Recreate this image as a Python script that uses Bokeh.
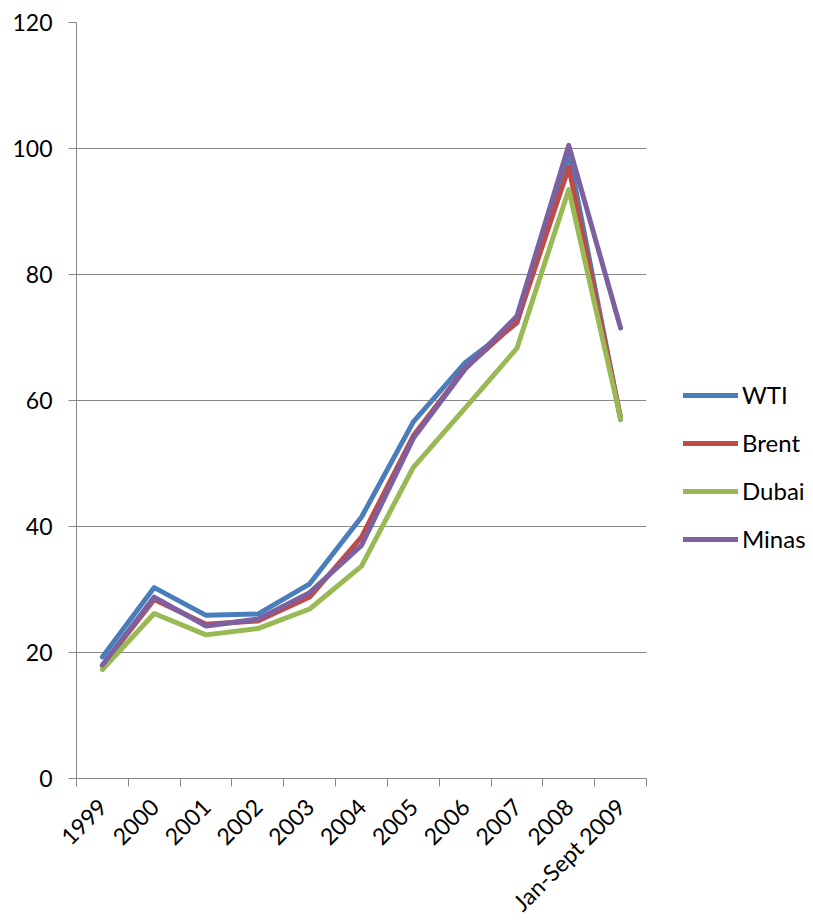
import numpy as np
from bokeh.plotting import figure
from bokeh.models import Range1d, FixedTicker, Legend, LegendItem
from bokeh.embed import file_html
from bokeh.resources import INLINE

categories = ["1999", "2000", "2001", "2002", "2003", "2004", "2005", "2006", "2007", "2008", "Jan-Sept 2009"]
wti   = [19.3, 30.3, 25.9, 26.1, 30.9, 41.5, 56.6, 66.0, 72.3, 99.2, 57.0]
brent = [17.9, 28.4, 24.5, 25.0, 28.8, 38.3, 54.4, 65.1, 72.5, 97.0, 57.3]
dubai = [17.3, 26.2, 22.8, 23.8, 26.9, 33.7, 49.4, 58.8, 68.3, 93.5, 57.1]
minas = [18.0, 28.8, 24.2, 25.3, 29.5, 37.0, 54.0, 65.0, 73.4, 100.5, 71.5]

series_names = ["WTI", "Brent", "Dubai", "Minas"]
series_values = [wti, brent, dubai, minas]
colors = ["#4A7EBB", "#BE4B48", "#98B954", "#7D60A0"]

FONT = "Lato"
GRAY = "#888888"

x = np.arange(len(categories)) + 0.5

p = figure(frame_width=570, frame_height=756, output_backend="svg", toolbar_location=None,
           x_range=Range1d(0, len(categories)), y_range=Range1d(0, 120))
p.min_border_left = 76
p.min_border_top = 22
p.min_border_right = 150
p.min_border_bottom = 0
p.outline_line_color = None
p.background_fill_color = "white"

items = []
for name, vals, c in zip(series_names, series_values, colors):
    r = p.line(x, vals, line_color=c, line_width=5, line_join="round", line_cap="round")
    items.append(LegendItem(label=name, renderers=[r]))

# x axis
p.xaxis.ticker = FixedTicker(ticks=list(x), minor_ticks=list(np.arange(len(categories) + 1)))
p.xaxis.major_label_overrides = {float(xi): c for xi, c in zip(x, categories)}
p.xaxis.major_label_orientation = np.pi / 4
p.xaxis.major_tick_out = 0
p.xaxis.major_tick_in = 0
p.xaxis.minor_tick_out = 8
p.xaxis.minor_tick_in = 0
p.xaxis.minor_tick_line_color = GRAY
p.xaxis.axis_line_color = GRAY
p.xaxis.major_label_standoff = 16
p.xaxis.major_label_text_font = FONT
p.xaxis.major_label_text_font_size = "23px"
p.xaxis.major_label_text_color = "black"

# y axis
p.yaxis.ticker = FixedTicker(ticks=[0, 20, 40, 60, 80, 100, 120])
p.yaxis.major_tick_out = 8
p.yaxis.major_tick_in = 0
p.yaxis.minor_tick_line_color = None
p.yaxis.axis_line_color = GRAY
p.yaxis.major_tick_line_color = GRAY
p.yaxis.major_label_standoff = 16
p.yaxis.major_label_text_font = FONT
p.yaxis.major_label_text_font_size = "23px"
p.yaxis.major_label_text_color = "black"

p.xgrid.grid_line_color = None
p.ygrid.grid_line_color = GRAY
p.ygrid.grid_line_width = 1

legend = Legend(items=items, location=(37, 225))
legend.border_line_color = None
legend.background_fill_alpha = 0
legend.padding = 0
legend.margin = 0
legend.glyph_width = 55
legend.glyph_height = 20
legend.label_height = 20
legend.spacing = 19
legend.label_standoff = 4
legend.label_text_font = FONT
legend.label_text_font_size = "24px"
legend.label_text_color = "black"
p.add_layout(legend, "right")

open("out.html", "w").write(file_html(p, INLINE))
